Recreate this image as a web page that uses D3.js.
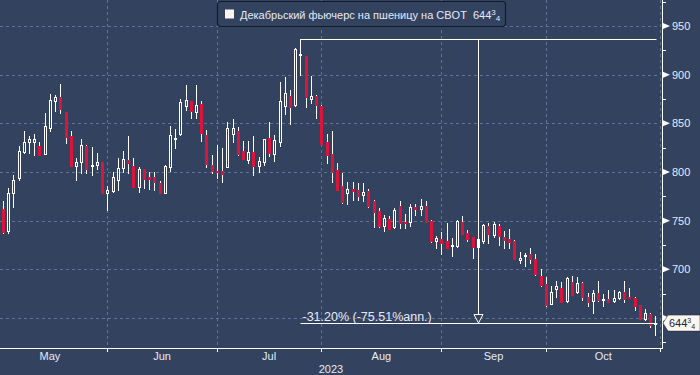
<!DOCTYPE html>
<html>
<head>
<meta charset="utf-8">
<script src="https://cdn.jsdelivr.net/npm/d3@7"></script>
<style>
  body { margin: 0; background: #33425f; }
  svg { display: block; font-family: "Liberation Sans", Arial, sans-serif; }
</style>
</head>
<body>
<div id="chart"></div>
<script>
// Data (daily candles, trading days May 3 - Oct 31)
const open = [761.6, 739.7, 778.8, 793.5, 820.9, 830.5, 831.2, 826.7, 818.2, 844.9,
  873.3, 876.7, 862.0, 837.0, 806.5, 810.6, 826.7, 807.2, 807.2, 810.6,
  778.1, 780.8, 791.8, 804.5, 812.3, 806.2, 784.3, 803.1, 794.9, 794.9,
  788.4, 778.8, 805.5, 833.6, 838.7, 867.5, 873.0, 862.0, 869.6, 838.0,
  807.2, 801.1, 801.1, 805.5, 838.7, 842.2, 821.6, 812.7, 820.3, 806.5,
  810.0, 834.6, 818.5, 831.2, 868.2, 878.1, 868.9, 920.3, 919.2, 875.4,
  878.1, 867.9, 831.2, 818.5, 802.1, 785.7, 778.8, 782.6, 781.6, 776.1,
  780.5, 770.3, 760.0, 744.9, 751.4, 743.2, 765.1, 749.0, 749.0, 763.8,
  762.1, 765.1, 750.1, 729.2, 731.2, 729.2, 724.7, 724.0, 748.7, 737.0,
  732.9, 722.7, 729.5, 744.9, 735.3, 744.7, 733.2, 731.2, 729.1, 710.0,
  714.1, 715.8, 710.3, 693.5, 684.9, 664.1, 679.8, 680.5, 667.5, 686.7,
  676.4, 685.6, 671.2, 667.5, 675.4, 668.5, 669.5, 667.5, 670.2, 677.1,
  672.0, 670.2, 663.4, 648.7, 654.1, 644.0];
const high = [770.2, 783.9, 796.9, 826.7, 842.2, 837.0, 838.7, 830.9, 860.3, 880.2,
  879.1, 890.4, 862.0, 842.2, 814.1, 833.9, 827.8, 825.4, 819.9, 810.6,
  785.6, 800.4, 814.1, 821.9, 837.0, 814.1, 805.5, 803.1, 800.4, 800.4,
  790.8, 807.2, 847.6, 843.9, 875.0, 889.4, 873.0, 889.4, 873.0, 843.2,
  817.5, 827.8, 824.4, 851.1, 854.5, 846.3, 831.9, 831.9, 837.4, 815.8,
  834.0, 851.1, 838.0, 892.9, 897.6, 884.3, 927.1, 936.8, 919.2, 898.7,
  879.2, 868.9, 839.1, 842.2, 809.6, 798.7, 789.5, 789.5, 788.4, 788.4,
  782.6, 771.3, 762.7, 755.9, 754.9, 762.7, 770.3, 756.9, 767.2, 766.8,
  772.3, 770.3, 750.7, 734.3, 738.8, 748.0, 732.6, 750.7, 754.9, 740.5,
  732.9, 736.4, 746.6, 747.3, 749.0, 746.5, 739.1, 741.5, 730.2, 717.5,
  716.5, 721.6, 715.8, 700.0, 691.8, 682.9, 688.0, 687.3, 691.8, 693.2,
  692.5, 687.3, 675.4, 678.8, 688.0, 674.7, 678.8, 678.8, 678.1, 688.0,
  680.8, 671.2, 663.4, 658.9, 654.8, 652.4];
const low = [737.7, 737.0, 764.4, 791.8, 819.2, 819.2, 817.5, 817.5, 818.2, 842.2,
  863.0, 860.3, 829.5, 806.5, 791.8, 799.3, 798.7, 796.9, 802.8, 778.8,
  761.0, 779.8, 781.5, 800.4, 798.7, 784.3, 779.8, 783.3, 782.2, 781.5,
  778.1, 778.1, 801.1, 825.0, 838.0, 863.7, 855.9, 855.9, 832.0, 805.5,
  799.4, 794.2, 790.1, 805.5, 831.2, 817.5, 813.4, 809.0, 797.0, 800.4,
  807.2, 816.8, 811.3, 827.1, 859.6, 849.4, 867.9, 899.7, 867.2, 870.9,
  855.9, 828.8, 809.6, 790.1, 781.6, 768.6, 766.8, 771.3, 771.3, 770.6,
  764.4, 743.9, 743.9, 739.8, 741.2, 742.2, 742.9, 742.9, 744.6, 755.9,
  755.9, 748.3, 727.8, 721.6, 715.8, 721.6, 713.8, 723.3, 736.4, 729.5,
  711.7, 709.6, 726.8, 726.8, 732.9, 725.0, 721.6, 722.3, 710.3, 706.9,
  703.8, 706.2, 694.2, 682.9, 662.3, 664.1, 671.9, 666.1, 666.8, 673.7,
  675.4, 668.5, 662.3, 655.5, 667.8, 662.3, 666.8, 666.8, 669.5, 666.8,
  670.6, 658.2, 648.7, 648.0, 640.4, 632.6];
const close = [738.7, 778.8, 791.8, 821.6, 830.9, 833.6, 833.6, 817.5, 847.3, 874.0,
  876.7, 864.4, 836.3, 806.5, 809.9, 827.7, 803.1, 807.5, 809.9, 778.8,
  781.5, 794.5, 803.8, 813.0, 809.6, 784.3, 803.1, 792.5, 792.5, 790.1,
  778.8, 806.2, 838.0, 834.6, 871.6, 873.7, 863.1, 868.9, 840.5, 808.6,
  801.1, 800.4, 798.3, 844.9, 844.9, 818.5, 813.4, 820.3, 806.5, 811.3,
  834.0, 819.9, 832.6, 873.0, 880.9, 867.2, 926.1, 921.3, 877.4, 878.1,
  868.9, 828.8, 817.5, 800.0, 781.6, 769.6, 782.6, 780.5, 775.7, 779.2,
  765.5, 759.3, 744.9, 752.5, 741.2, 761.0, 748.0, 747.6, 763.8, 762.1,
  765.1, 749.0, 728.8, 732.3, 726.8, 721.6, 725.0, 750.1, 736.4, 731.2,
  722.7, 730.9, 745.6, 736.4, 746.6, 734.6, 730.5, 728.5, 710.3, 711.3,
  715.1, 710.3, 694.9, 683.9, 663.4, 676.4, 683.2, 666.1, 690.8, 673.7,
  685.6, 671.2, 666.8, 676.1, 668.5, 669.5, 666.8, 670.2, 677.1, 669.5,
  670.6, 662.7, 648.7, 654.8, 642.8, 644.75];

const monthLabels = ["May", "Jun", "Jul", "Aug", "Sep", "Oct"];
const monthStarts = [-2, 20, 41, 61, 84, 104, 126]; // candle index of first trading day
const yTicks = [650, 700, 750, 800, 850, 900, 950];
const yLabels = [700, 750, 800, 850, 900, 950]; // 650 sits under the last-price tag
const yMinorTicks = [625, 675, 725, 775, 825, 875, 925, 975];
const yearLabel = "2023";
const legendText = "Декабрьский фьючерс на пшеницу на CBOT";
const lastPrice = 644.75;
const changeText = "-31.20% (-75.51%ann.)";
const peakIndex = 57;

// Dimensions
const width = 700, height = 375;
const plot = { left: 0, right: 660, top: 0, bottom: 348 };
const axisX = 662;

const bg = "#33425f";
const grid = "#5f7396";
const fg = "#e4ebf7";
const red = "#dc143c";

const svg = d3.select("#chart").append("svg")
  .attr("width", width).attr("height", height);

svg.append("rect").attr("width", width).attr("height", height).attr("fill", bg);

// Scales
const x = d3.scaleLinear().domain([0, 125]).range([2.9, 2.9 + 5.22 * 125]);
const y = d3.scaleLinear().domain([650, 950]).range([318, 26]);

// Gridlines
svg.append("g").selectAll("line").data(yTicks).join("line")
  .attr("x1", plot.left).attr("x2", plot.right)
  .attr("y1", d => Math.round(y(d)) + 0.5).attr("y2", d => Math.round(y(d)) + 0.5)
  .attr("stroke", grid).attr("stroke-dasharray", "3,3");

svg.append("g").selectAll("line").data(monthStarts.slice(1, -1)).join("line")
  .attr("x1", d => Math.round(x(d)) + 0.5).attr("x2", d => Math.round(x(d)) + 0.5)
  .attr("y1", plot.top).attr("y2", plot.bottom)
  .attr("stroke", grid).attr("stroke-dasharray", "3,3");

svg.append("line")
  .attr("x1", plot.right + 0.5).attr("x2", plot.right + 0.5)
  .attr("y1", plot.top).attr("y2", plot.bottom)
  .attr("stroke", grid).attr("stroke-dasharray", "3,3");

// Candles
const candles = d3.range(open.length).map(i => ({
  i, o: open[i], h: high[i], l: low[i], c: close[i]
}));

const px = d => Math.round(x(d.i));
const cg = svg.append("g");
cg.selectAll("line").data(candles).join("line")
  .attr("x1", d => px(d) + 0.5).attr("x2", d => px(d) + 0.5)
  .attr("y1", d => Math.round(y(d.h))).attr("y2", d => Math.round(y(d.l)) + 1)
  .attr("stroke", "#ffffff").attr("stroke-width", 1);

// down candles: filled red
cg.append("g").selectAll("rect").data(candles.filter(d => d.c < d.o)).join("rect")
  .attr("x", d => px(d) - 1)
  .attr("width", 3)
  .attr("y", d => Math.round(y(d.o)))
  .attr("height", d => Math.max(1, Math.round(y(d.c)) - Math.round(y(d.o)) + 1))
  .attr("fill", red);

// up candles: hollow white outline
cg.append("g").selectAll("rect").data(candles.filter(d => d.c >= d.o)).join("rect")
  .attr("x", d => px(d) - 0.5)
  .attr("width", 2)
  .attr("y", d => Math.round(y(d.c)) + 0.5)
  .attr("height", d => Math.max(1, Math.round(y(d.o)) - Math.round(y(d.c))))
  .attr("fill", bg)
  .attr("stroke", "#ffffff").attr("stroke-width", 1);

// Change annotation
const ax1 = Math.round(x(peakIndex)) + 0.5, ax2 = Math.round(x(open.length - 1)) + 0.5;
const ayTop = Math.round(y(high[peakIndex])) + 0.5;
const ayBot = Math.round(y(lastPrice)) + 0.5;
const axMid = Math.round((ax1 + ax2) / 2) + 0.5;
const ann = svg.append("g").attr("stroke", "#ffffff").attr("fill", "none");
ann.append("line").attr("x1", ax1).attr("x2", ax2 + 1).attr("y1", ayTop).attr("y2", ayTop);
ann.append("line").attr("x1", ax1).attr("x2", ax2 + 2).attr("y1", ayBot).attr("y2", ayBot);
ann.append("line").attr("x1", axMid).attr("x2", axMid).attr("y1", ayTop).attr("y2", ayBot - 9);
ann.append("path")
  .attr("d", `M${axMid - 4.5},${ayBot - 9}L${axMid + 4.5},${ayBot - 9}L${axMid},${ayBot - 0.5}Z`)
  .attr("fill", bg);

svg.append("text")
  .attr("x", ax1 + 2).attr("y", ayBot - 3)
  .attr("fill", fg).style("font-size", "12.5px")
  .text(changeText);

// Bottom axis
svg.append("line")
  .attr("x1", 0).attr("x2", axisX + 1).attr("y1", plot.bottom + 0.5).attr("y2", plot.bottom + 0.5)
  .attr("stroke", "#ffffff");
svg.append("g").selectAll("line").data(monthStarts.slice(1, -1)).join("line")
  .attr("x1", d => Math.round(x(d)) + 0.5).attr("x2", d => Math.round(x(d)) + 0.5)
  .attr("y1", plot.bottom).attr("y2", plot.bottom + 4)
  .attr("stroke", "#ffffff");
svg.append("line")
  .attr("x1", axisX - 1.5).attr("x2", axisX - 1.5)
  .attr("y1", plot.bottom).attr("y2", plot.bottom + 4).attr("stroke", "#ffffff");

svg.append("g").selectAll("text").data(monthLabels).join("text")
  .attr("x", (d, k) => (x(monthStarts[k]) + x(monthStarts[k + 1])) / 2)
  .attr("y", 360)
  .attr("text-anchor", "middle")
  .attr("fill", fg).style("font-size", "11px")
  .text(d => d);

svg.append("text")
  .attr("x", 331).attr("y", 373).attr("text-anchor", "middle")
  .attr("fill", fg).style("font-size", "11px")
  .text(yearLabel);

// Right axis
svg.append("line")
  .attr("x1", axisX + 0.5).attr("x2", axisX + 0.5).attr("y1", 0).attr("y2", plot.bottom + 1)
  .attr("stroke", "#ffffff");
svg.append("g").selectAll("line").data(yMinorTicks).join("line")
  .attr("x1", axisX).attr("x2", axisX + 4)
  .attr("y1", d => Math.round(y(d)) + 0.5).attr("y2", d => Math.round(y(d)) + 0.5)
  .attr("stroke", "#ffffff");
svg.append("g").selectAll("path").data(yTicks).join("path")
  .attr("d", d => `M${axisX + 1},${y(d) - 3}L${axisX + 8},${y(d)}L${axisX + 1},${y(d) + 3}Z`)
  .attr("fill", "#ffffff");
svg.append("g").selectAll("text").data(yLabels).join("text")
  .attr("x", 672).attr("y", d => y(d) + 4)
  .attr("fill", fg).style("font-size", "11px")
  .text(d => d);

// Last price tag
const ty = y(lastPrice);
svg.append("path")
  .attr("d", `M663,${ty}L668,${ty - 8}L700,${ty - 8}L700,${ty + 8}L668,${ty + 8}Z`)
  .attr("fill", "#fdf6ef").attr("stroke", "#1c2436").attr("stroke-width", 0.5);
const tt = svg.append("text")
  .attr("x", 669).attr("y", ty + 4)
  .attr("fill", "#1c2436").style("font-size", "11px");
tt.append("tspan").text("644");
tt.append("tspan").attr("dy", -4).style("font-size", "7px").text("3");
tt.append("tspan").attr("dy", 6).style("font-size", "7px").text("4");

// Legend
const lg = svg.append("g");
lg.append("rect")
  .attr("x", 217.5).attr("y", 1.5).attr("width", 288).attr("height", 25).attr("rx", 3)
  .attr("fill", bg).attr("stroke", "#141b2a").attr("stroke-width", 1.2);
lg.append("rect")
  .attr("x", 225).attr("y", 9.5).attr("width", 9).attr("height", 9)
  .attr("fill", "#fff3ee");
const lt = lg.append("text")
  .attr("x", 240).attr("y", 18.5)
  .attr("fill", fg).style("font-size", "11px");
lt.append("tspan").text(legendText);
lt.append("tspan").attr("dx", 6).text("644");
lt.append("tspan").attr("dy", -4).style("font-size", "8px").text("3");
lt.append("tspan").attr("dy", 6).style("font-size", "8px").text("4");
</script>
</body>
</html>
